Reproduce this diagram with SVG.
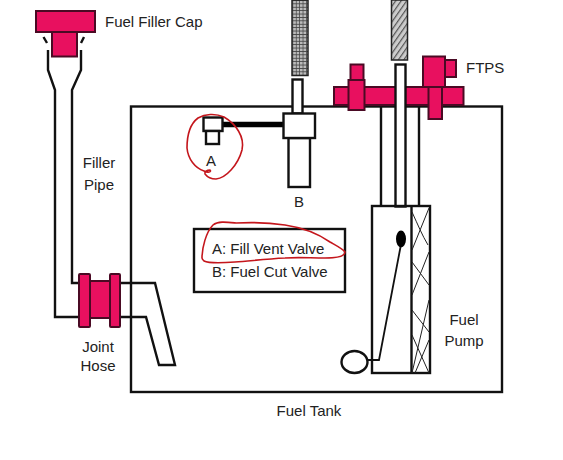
<svg xmlns="http://www.w3.org/2000/svg" width="563" height="460" viewBox="0 0 563 460">
<style>
.l{fill:none;stroke:#111;stroke-width:2.4;stroke-linejoin:miter}
.n{fill:none;stroke:#111;stroke-width:1.800}
.w{fill:#fff;stroke:#111;stroke-width:2.4}
.p{fill:#e8105f;stroke:#4a0a24;stroke-width:2}
.r{fill:none;stroke:#c4161c;stroke-width:1.6;stroke-linecap:round;stroke-linejoin:round}
.t{font-family:"Liberation Sans",Arial,sans-serif;font-size:15px;fill:#222}
.m{text-anchor:middle}
.x{fill:none;stroke:#222;stroke-width:1}
</style>
<defs>
<pattern id="grid" width="3.4" height="3.4" patternUnits="userSpaceOnUse"><rect width="3.4" height="3.4" fill="#bbb"/><path d="M0 0H3.4M0 0V3.4" stroke="#444" stroke-width="1.500"/></pattern>
<pattern id="hatch" width="4.500" height="4.500" patternUnits="userSpaceOnUse" patternTransform="rotate(35)"><rect width="4.500" height="4.500" fill="#ccc"/><path d="M0 0V4.500" stroke="#555" stroke-width="2.400"/></pattern>
</defs>
<rect width="563" height="460" fill="#fff"/>
<g id="fuel-tank"><rect x="131" y="106.500" width="371" height="285.500" class="l"/><text x="309" y="416" class="t m">Fuel Tank</text></g>
<g id="connectors">
<path class="l" d="M48 50V70L55 90V317H79M81 50V70L72 90V283H79"/>
<path class="l" d="M43.500 37L47 43M84 37L81 43"/>
<path class="l" d="M120 283H155L175 365H159L146 317H120"/>
<path d="M222 124.500H283" stroke="#000" stroke-width="5.500" fill="none"/>
<path class="n" d="M368 360H379L400.500 247"/>
</g>
<g id="fuel-filler-cap"><rect x="36" y="11" width="59" height="21" class="p"/><rect x="52" y="32" width="25" height="24.500" class="p"/><text x="105" y="27" class="t">Fuel Filler Cap</text></g>
<g id="filler-pipe"><text x="99" y="168" class="t m">Filler</text><text x="99" y="190" class="t m">Pipe</text></g>
<g id="joint-hose"><rect x="90" y="281" width="20" height="37" class="p"/><rect x="79" y="274" width="11" height="53" rx="1" class="p"/><rect x="110" y="274" width="10" height="53" rx="1" class="p"/><text x="98" y="352" class="t m">Joint</text><text x="98" y="371" class="t m">Hose</text></g>
<g id="valve-a"><rect x="203.500" y="117.500" width="19" height="13.500" class="w"/><rect x="206" y="131" width="13" height="13" class="w"/><text x="211" y="166" class="t m">A</text><path class="r" d="M204 171C208 173 212 172 210 170C207 170 204 172 205 174C208 178 212 179 216 179C226 178 238 165 242 150C245 137 236 124 224 117C215 113 205 114 198 118C190 124 187 136 187 148C188 159 195 168 204 171Z"/></g>
<g id="valve-b"><rect x="292.500" y="79.500" width="10" height="34" class="w"/><rect x="288.500" y="138" width="21.500" height="49" class="w"/><rect x="283.500" y="113.500" width="31.500" height="24.500" class="w"/><rect x="292" y="0" width="16" height="75.500" fill="url(#grid)" stroke="#222" stroke-width="1.500"/><text x="299" y="207" class="t m">B</text></g>
<g id="legend"><rect x="194" y="229" width="151" height="63" class="l"/><text x="212" y="254" class="t">A: Fill Vent Valve</text><text x="212" y="277" class="t">B: Fuel Cut Valve</text><path class="r" d="M202 258C202 248 206 232 213 225C218 221 226 222 236 223C255 222 272 223 285 225C305 228 320 235 330 242C337 246 343 249 345 252C345 256 338 258 325 258C310 258 298 257 285 258C265 259 250 261 235 262C222 263 208 263 204 261C203 260 202 259 202 258Z"/></g>
<g id="ftps"><rect x="334" y="87" width="129.500" height="18" class="p"/><rect x="350.500" y="64.500" width="13" height="16" class="p"/><rect x="348.500" y="80" width="16" height="30" class="p"/><rect x="445" y="60" width="11" height="17" class="p"/><rect x="423" y="56.500" width="22" height="30.500" class="p"/><rect x="428.500" y="87" width="13.500" height="32" class="p"/><text x="466" y="73" class="t">FTPS</text></g>
<g id="fuel-pump"><path class="l" d="M381 106V206M419 106V206"/><rect x="395.500" y="64.500" width="10" height="142" class="w"/><rect x="391.500" y="0" width="16" height="60" fill="url(#hatch)" stroke="#222" stroke-width="1.500"/>
<rect x="372" y="206" width="58" height="167" class="l"/><path class="l" d="M411.500 206V373"/>
<path class="x" d="M429 208L412 250M412 212C418 225 422 235 428 245M429 252L412 295M412 262L429 285M429 300L412 373M412 310L429 332M429 340L415 373M412 335L429 373"/>
<ellipse cx="401" cy="239" rx="5" ry="8.500" fill="#000"/>
<ellipse cx="354.500" cy="362" rx="13" ry="11" class="w"/>
<text x="464" y="325" class="t m">Fuel</text><text x="464" y="346" class="t m">Pump</text></g>
</svg>
